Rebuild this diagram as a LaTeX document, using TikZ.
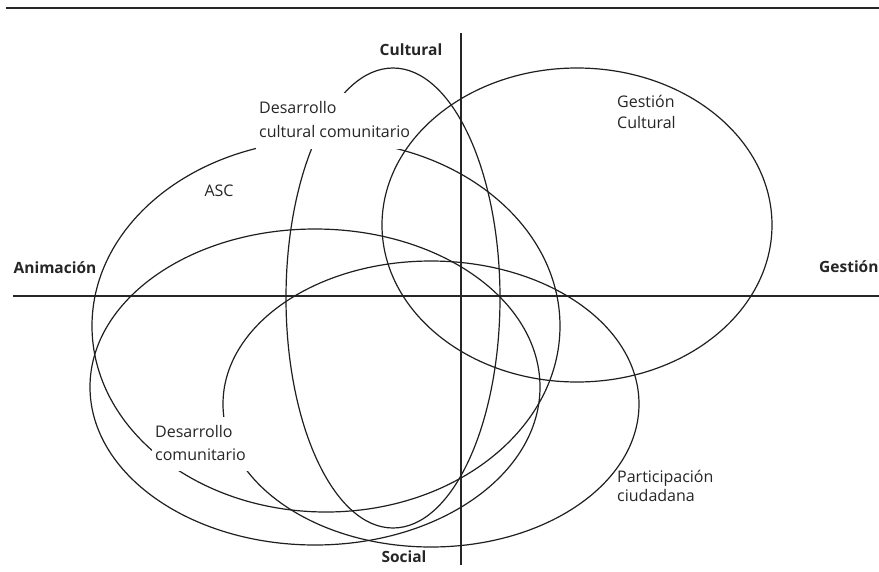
\documentclass[tikz,border=0pt]{standalone}
\usepackage{fontspec}
\setmainfont{Open Sans}
\begin{document}
\begin{tikzpicture}[x=1pt,y=-1pt,
  curve/.style={line width=1.2pt, draw=black!88},
  axis/.style={line width=1.3pt, draw=black!85},
  toprule/.style={line width=2.2pt, draw=black!85},
  axlabel/.style={font=\fontsize{15.5}{18}\selectfont\bfseries, inner sep=0pt, text=black!85},
  lbl/.style={font=\fontsize{16}{23}\selectfont, align=left, inner sep=0pt, text=black!85},
  masklbl/.style={fill=white, inner xsep=3pt, inner ysep=4pt}]
\useasboundingbox (0,0) rectangle (879,571);
\fill[white] (0,0) rectangle (879,571);
% rule and axes
\coordinate (ruleL) at (6,8);
\coordinate (ruleR) at (879,8);
\coordinate (hL) at (13,296);
\coordinate (hR) at (879,296);
\coordinate (vT) at (461,33);
\coordinate (vB) at (461,565);
\draw[toprule] (ruleL) -- (ruleR);
\draw[axis] (hL) -- (hR);
\draw[axis] (vT) -- (vB);
% ellipses
\draw[curve] (326,326) ellipse [x radius=234pt, y radius=186pt]; % ASC
\draw[curve] (393,298) ellipse [x radius=107pt, y radius=230pt]; % Desarrollo cultural comunitario
\draw[curve] (315,387) ellipse [x radius=225pt, y radius=158pt]; % Desarrollo comunitario
\draw[curve] (431,404) ellipse [x radius=208pt, y radius=143pt]; % Participacion
% labels
\node[lbl, masklbl, anchor=west, font=\fontsize{16}{24}\selectfont] (dcc) at (256,121) {\strut Desarrollo\\\strut cultural comunitario};
\node[lbl, masklbl, anchor=west] (dc) at (152,443.9) {\strut Desarrollo\\\strut comunitario};
\node[lbl, anchor=west, font=\fontsize{16}{21}\selectfont] (gc) at (617,114) {\strut Gestión\\\strut Cultural};
\node[lbl, anchor=west, font=\fontsize{16}{19}\selectfont] (pc) at (617,488) {\strut Participación\\\strut ciudadana};
\node[lbl, anchor=base] (asc) at (219,196) {ASC};
\node[axlabel, anchor=base] (cultural) at (411,55) {Cultural};
\node[axlabel, anchor=base] (social) at (404,562) {Social};
\node[axlabel, anchor=base] (anim) at (55,273) {Animación};
\node[axlabel, anchor=base west] (gest) at (819,272) {Gestión};
% Gestion Cultural ellipse on top
\draw[curve] (577,225) ellipse [x radius=195pt, y radius=157pt];
\end{tikzpicture}
\end{document}
